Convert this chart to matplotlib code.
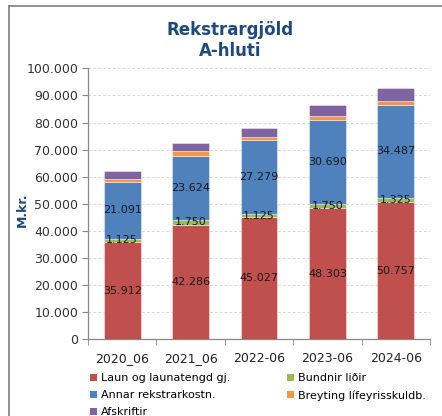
import matplotlib
matplotlib.use("Agg")
import matplotlib.pyplot as plt
import numpy as np
from matplotlib.lines import Line2D
from matplotlib.patches import Patch

categories = ["2020_06", "2021_06", "2022-06", "2023-06", "2024-06"]
laun = [35912, 42286, 45027, 48303, 50757]
bundnir = [1125, 1750, 1125, 1750, 1325]
annar = [21091, 23624, 27279, 30690, 34487]
breyting = [900, 1800, 1300, 1750, 1300]
afskriftir = [3200, 3000, 3200, 4100, 4700]

series = [
    ("Laun og launatengd gj.", laun, "#C0504D", True),
    ("Bundnir liðir", bundnir, "#9BBB59", True),
    ("Annar rekstrarkostn.", annar, "#4F81BD", True),
    ("Breyting lífeyrisskuldb.", breyting, "#F79646", False),
    ("Afskriftir", afskriftir, "#8064A2", False),
]

plt.rcParams['font.family'] = ['DejaVu Sans']

fig = plt.figure(figsize=(4.42, 4.16), dpi=100)
ax = fig.add_axes([88/442, 1-339.3/416, (430-88)/442, (339.3-68.3)/416])

x = np.arange(len(categories))
bottom = np.zeros(len(categories))
handles = []
for name, vals, col, lab in series:
    vals = np.array(vals, dtype=float)
    ax.bar(x, vals, 0.54, bottom=bottom, color=col, edgecolor=(1, 1, 1, 0.5), linewidth=0.6, zorder=3)
    if lab:
        for xi, b, v in zip(x, bottom, vals):
            ax.text(xi, b + v/2, f"{int(v):,}".replace(",", "."), ha="center", va="center",
                    fontsize=8, color="#1a1a1a", zorder=4)
    bottom += vals
    handles.append(Patch(facecolor=col, edgecolor='none', label=name))

ax.set_xlim(-0.5, len(categories)-0.5)
ax.set_ylim(0, 100000)
ax.set_yticks(np.arange(0, 100001, 10000))
ax.set_yticklabels([f"{v:,}".replace(",", ".") for v in range(0, 100001, 10000)], fontsize=9, color="#333333")
ax.set_xticks(x)
ax.set_xticklabels(categories, fontsize=9, color="#222222")
ax.set_xticks(np.arange(-0.5, len(categories), 1), minor=True)
ax.tick_params(axis='x', which='major', length=0, pad=9)
ax.tick_params(axis='x', which='minor', length=4, color="#888888", direction='out')
ax.tick_params(axis='y', length=4, color="#888888", direction='out', pad=3)
ax.yaxis.grid(True, color="#d9d9d9", linestyle=(0, (3, 2)), linewidth=0.7, zorder=0)
ax.set_axisbelow(True)
for s in ['top', 'right']:
    ax.spines[s].set_visible(False)
for s in ['left', 'bottom']:
    ax.spines[s].set_color("#888888")
    ax.spines[s].set_linewidth(0.9)

fig.text(22/442, 1-210/416, "M.kr.", rotation=90, ha="center", va="center",
         fontsize=9, fontweight="bold", color="#1F497D")
fig.text(230/442, 1-30/416, "Rekstrargjöld", ha="center", va="center",
         fontsize=12, fontweight="bold", color="#1F497D")
fig.text(230/442, 1-51/416, "A-hluti", ha="center", va="center",
         fontsize=12, fontweight="bold", color="#1F497D")

legkw = dict(frameon=False, fontsize=8, handlelength=0.6, handleheight=0.6,
             handletextpad=0.4, labelspacing=0.65, borderaxespad=0, borderpad=0)
col1 = [handles[0], handles[2], handles[4]]
col2 = [handles[1], handles[3]]
fig.legend(handles=col1, loc="upper left", bbox_to_anchor=(90/442, 1-373/416), **legkw)
fig.legend(handles=col2, loc="upper left", bbox_to_anchor=(287/442, 1-373/416), **legkw)

# outer frame
fig.add_artist(Line2D([9/442, 9/442], [0, 1-6/416], transform=fig.transFigure, color="#808080", linewidth=1.2))
fig.add_artist(Line2D([9/442, 1], [1-6/416, 1-6/416], transform=fig.transFigure, color="#808080", linewidth=1.2))

fig.savefig("out.png", dpi=100)
